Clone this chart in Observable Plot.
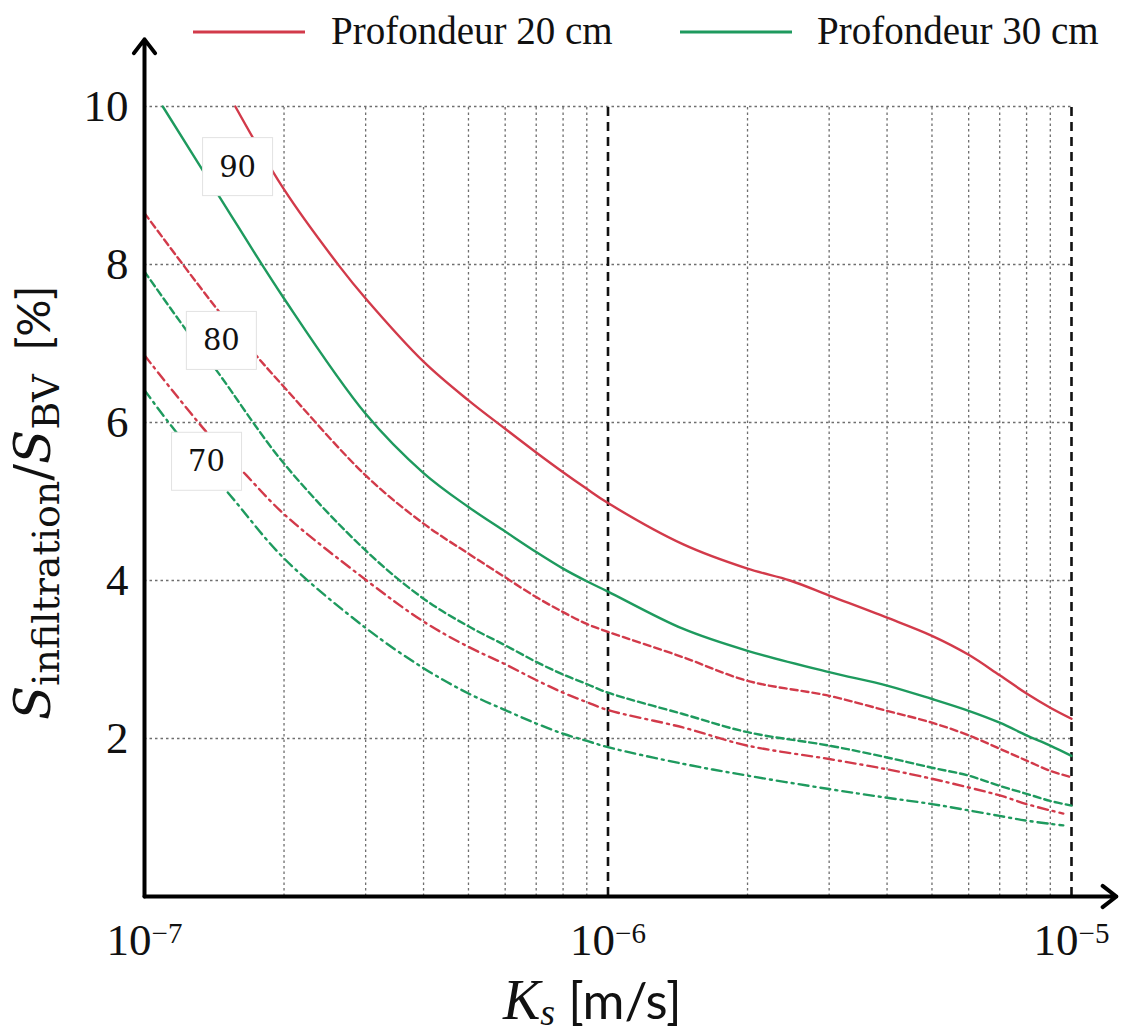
<!DOCTYPE html>
<html><head><meta charset="utf-8">
<script src="https://cdn.jsdelivr.net/npm/d3@7"></script>
<script src="https://cdn.jsdelivr.net/npm/@observablehq/plot@0.6"></script>
<style>
html,body{margin:0;padding:0;background:#fff;}
#chart{width:1132px;height:1034px;}
</style></head><body><div id="chart"></div>
<script>
const RED = "#d23a4a", GREEN = "#1e9a5e";

// Profondeur 20 cm, 90 %
const K_R90 = [1.57e-7, 2e-7, 2.64e-7, 3e-7, 4e-7, 5e-7, 6e-7, 7e-7, 8e-7, 9e-7, 1e-6, 1.45e-6, 2e-6, 2.47e-6, 3e-6, 4e-6, 5e-6, 6e-6, 7e-6, 8e-6, 9e-6, 1e-5];
const V_R90 = [10.0, 8.95, 7.97, 7.57, 6.77, 6.28, 5.92, 5.62, 5.37, 5.16, 4.98, 4.46, 4.15, 4.0, 3.81, 3.53, 3.30, 3.06, 2.80, 2.57, 2.39, 2.25];
// Profondeur 30 cm, 90 %
const K_G90 = [1.095e-7, 1.45e-7, 2e-7, 3e-7, 4e-7, 5e-7, 6e-7, 7e-7, 8e-7, 9e-7, 1e-6, 1.45e-6, 2e-6, 3e-6, 4e-6, 5e-6, 6e-6, 7e-6, 8e-6, 9e-6, 1e-5];
const V_G90 = [10.0, 8.86, 7.57, 6.11, 5.36, 4.93, 4.62, 4.36, 4.15, 3.99, 3.86, 3.39, 3.11, 2.84, 2.67, 2.50, 2.35, 2.20, 2.04, 1.91, 1.78];
// Profondeur 20 cm, 80 %
const K_R80 = [1e-7, 1.45e-7, 1.74e-7, 2e-7, 3e-7, 4e-7, 5e-7, 6e-7, 7e-7, 8e-7, 9e-7, 1e-6, 1.45e-6, 2e-6, 3e-6, 4e-6, 5e-6, 6e-6, 7e-6, 8e-6, 9e-6, 1e-5];
const V_R80 = [8.65, 7.40, 6.85, 6.45, 5.33, 4.72, 4.34, 4.04, 3.79, 3.60, 3.45, 3.35, 3.03, 2.73, 2.54, 2.35, 2.20, 2.04, 1.87, 1.72, 1.59, 1.51];
// Profondeur 30 cm, 80 %
const K_G80 = [1e-7, 1.23e-7, 1.43e-7, 2e-7, 3e-7, 4e-7, 5e-7, 6e-7, 7e-7, 8e-7, 9e-7, 1e-6, 1.45e-6, 2e-6, 3e-6, 4e-6, 5e-6, 6e-6, 7e-6, 8e-6, 9e-6, 1e-5];
const V_G80 = [7.91, 7.17, 6.66, 5.48, 4.38, 3.77, 3.42, 3.18, 2.97, 2.81, 2.69, 2.58, 2.31, 2.08, 1.91, 1.76, 1.63, 1.53, 1.40, 1.30, 1.21, 1.15];
// Profondeur 20 cm, 70 %
const K_R70 = [1e-7, 1.36e-7, 1.66e-7, 2e-7, 3e-7, 4e-7, 5e-7, 6e-7, 7e-7, 8e-7, 9e-7, 1e-6, 1.45e-6, 2e-6, 3e-6, 4e-6, 5e-6, 6e-6, 7e-6, 8e-6, 9e-6, 9.6e-6];
const V_R70 = [6.85, 5.88, 5.33, 4.84, 4.01, 3.48, 3.16, 2.94, 2.74, 2.58, 2.46, 2.36, 2.14, 1.91, 1.74, 1.61, 1.49, 1.38, 1.28, 1.17, 1.09, 1.05];
// Profondeur 30 cm, 70 %
const K_G70 = [1e-7, 1.17e-7, 1.53e-7, 2e-7, 3e-7, 4e-7, 5e-7, 6e-7, 7e-7, 8e-7, 9e-7, 1e-6, 1.45e-6, 2e-6, 3e-6, 4e-6, 5e-6, 6e-6, 7e-6, 8e-6, 9e-6, 9.6e-6];
const V_G70 = [6.41, 5.88, 5.08, 4.28, 3.40, 2.89, 2.57, 2.36, 2.19, 2.06, 1.97, 1.89, 1.68, 1.53, 1.36, 1.25, 1.17, 1.09, 1.02, 0.96, 0.92, 0.90];

const yTicks = [2, 4, 6, 8, 10];
const xMajor = [1e-7, 1e-6, 1e-5];
const xMinor = [2e-7, 3e-7, 4e-7, 5e-7, 6e-7, 7e-7, 8e-7, 9e-7, 2e-6, 3e-6, 4e-6, 5e-6, 6e-6, 7e-6, 8e-6, 9e-6];
const labelText = ["90", "80", "70"];
const labelK = [1.588e-7, 1.465e-7, 1.361e-7];
const labelV = [9.23, 7.03, 5.50];
const legendNames = ["Profondeur 20 cm", "Profondeur 30 cm"];
const legendColors = [RED, GREEN];

const series = [
  {k: K_R90, v: V_R90, color: RED, dash: undefined},
  {k: K_G90, v: V_G90, color: GREEN, dash: undefined},
  {k: K_R80, v: V_R80, color: RED, dash: "7,4"},
  {k: K_G80, v: V_G80, color: GREEN, dash: "7,4"},
  {k: K_R70, v: V_R70, color: RED, dash: "10,5,2,5"},
  {k: K_G70, v: V_G70, color: GREEN, dash: "10,5,2,5"}
];

const lineMarks = series.map(s => Plot.line(
  s.k.map((k, i) => ({k, v: s.v[i]})),
  {x: "k", y: "v", stroke: s.color, strokeWidth: 2.4, strokeDasharray: s.dash, curve: "catmull-rom"}
));

const labels = labelText.map((t, i) => ({t, k: labelK[i], v: labelV[i]}));
const xDashed = xMajor.slice(1);

const chart = Plot.plot({
  width: 1132, height: 1034,
  marginLeft: 144, marginRight: 61, marginTop: 106, marginBottom: 138,
  style: {fontFamily: "'Liberation Serif', serif", fontSize: "45px", color: "#111", background: "#fff", overflow: "visible"},
  x: {type: "log", domain: [1e-7, 1e-5], ticks: xMajor, tickSize: 0, tickPadding: 27,
      tickFormat: d => "10|" + Math.round(Math.log10(d)), label: null},
  y: {domain: [0, 10], ticks: yTicks, tickSize: 0, tickPadding: 16, label: null},
  marks: [
    Plot.ruleY(yTicks, {x1: 1e-7, x2: 1e-5, stroke: "#6e6e6e", strokeWidth: 1.3, strokeDasharray: "2.5,3"}),
    Plot.ruleX(xMinor, {y1: 0, y2: 10, stroke: "#6e6e6e", strokeWidth: 1.3, strokeDasharray: "2.5,3"}),
    Plot.ruleX(xDashed, {y1: 0, y2: 10, stroke: "#111", strokeWidth: 2.6, strokeDasharray: "9,6"}),
    ...lineMarks,
    Plot.text(labels, {x: "k", y: "v", text: "t", fontSize: 29, fontFamily: "'DejaVu Serif', serif", fill: "#111"}),
    Plot.arrow([{x1: 1e-7, y1: 0, x2: 1e-7, y2: 10.85}], {x1: "x1", y1: "y1", x2: "x2", y2: "y2", stroke: "#000", strokeWidth: 4, headLength: 6.5, headAngle: 75, bend: 0}),
    Plot.arrow([{x1: 1e-7, y1: 0, x2: 1.25e-5, y2: 0}], {x1: "x1", y1: "y1", x2: "x2", y2: "y2", stroke: "#000", strokeWidth: 4, headLength: 6.5, headAngle: 75, bend: 0})
  ]
});

document.getElementById("chart").appendChild(chart);
const svg = d3.select(chart);

// x tick labels with superscript exponents
svg.selectAll("text").each(function() {
  const el = d3.select(this);
  if (this.childNodes.length === 1 && this.textContent.indexOf("10|") === 0) {
    const e = this.textContent.split("|")[1].replace("-", "\u2212");
    el.text(null);
    el.append("tspan").text("10");
    el.append("tspan").attr("dy", "-0.42em").attr("font-size", "29px").text(e);
  }
});

// white boxes behind curve labels
const sb = chart.getBoundingClientRect();
svg.selectAll("text").filter(function() { return labelText.includes(this.textContent); }).each(function() {
  const b = this.getBoundingClientRect();
  const cx = b.left - sb.left + b.width / 2, cy = b.top - sb.top + b.height / 2;
  const grp = this.parentNode;
  const r = document.createElementNS("http://www.w3.org/2000/svg", "rect");
  r.setAttribute("x", cx - 35); r.setAttribute("y", cy - 29);
  r.setAttribute("width", 70); r.setAttribute("height", 58);
  r.setAttribute("fill", "#fff"); r.setAttribute("stroke", "#e2e2e2"); r.setAttribute("stroke-width", 1);
  grp.parentNode.insertBefore(r, grp);
});

// x-axis label
const xl = svg.append("text").attr("x", 503).attr("y", 1019).attr("fill", "#111").attr("text-anchor", "start").attr("font-family", "'Liberation Serif', serif");
xl.append("tspan").attr("font-style", "italic").attr("font-size", "56px").text("K");
xl.append("tspan").attr("font-style", "italic").attr("font-size", "38px").attr("dy", 6).text("s");
xl.append("tspan").attr("dy", -6).attr("font-family", "Lato, sans-serif").attr("font-size", "51px").text(" [m/s]");

// y-axis label
const yl = svg.append("text").attr("transform", "translate(50,720) rotate(-90)").attr("fill", "#111").attr("text-anchor", "start").attr("font-family", "'DejaVu Serif', serif");
yl.append("tspan").attr("font-style", "italic").attr("font-size", "50px").text("S");
yl.append("tspan").attr("font-size", "38px").attr("dy", 9).text("infiltration");
yl.append("tspan").attr("font-size", "50px").attr("dy", -9).text("/");
yl.append("tspan").attr("font-style", "italic").attr("font-size", "50px").text("S");
yl.append("tspan").attr("font-size", "38px").attr("dy", 9).text("BV");
yl.append("tspan").attr("font-size", "46px").attr("dy", -9).attr("font-family", "Lato, sans-serif").text("\u00a0\u00a0[%]");

// legend
const legX = [193, 680], legTextX = [331, 817];
legendNames.forEach((n, i) => {
  svg.append("line").attr("x1", legX[i]).attr("x2", legX[i] + 112).attr("y1", 32).attr("y2", 32)
    .attr("stroke", legendColors[i]).attr("stroke-width", 3);
  svg.append("text").attr("x", legTextX[i]).attr("y", 44).attr("text-anchor", "start").attr("font-family", "'Liberation Serif', serif")
    .attr("font-size", "39px").attr("fill", "#111").text(n);
});
</script>
</body></html>
